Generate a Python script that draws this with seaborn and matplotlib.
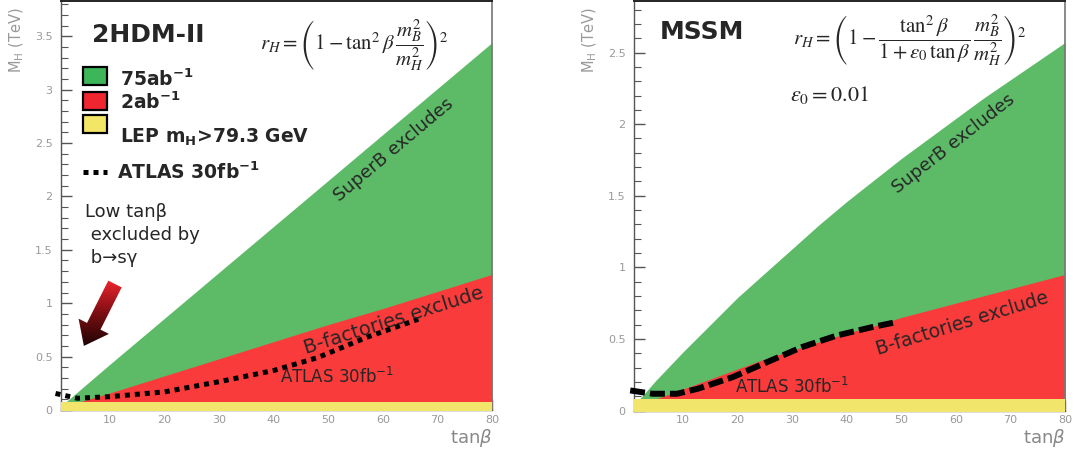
import numpy as np
import matplotlib
matplotlib.use("Agg")
import matplotlib.pyplot as plt
import seaborn as sns
from matplotlib.patches import Rectangle, FancyArrow
from matplotlib.transforms import IdentityTransform
from matplotlib.colors import LinearSegmentedColormap
from matplotlib.ticker import MultipleLocator, FuncFormatter

# values: tan(beta) vs M_H in TeV
tanb = [2, 10, 20, 30, 40, 50, 60, 70, 80]

# 2HDM-II
hdm_superb = [0.08, 0.43, 0.86, 1.29, 1.72, 2.15, 2.58, 3.01, 3.44]
hdm_bfact_t = [4, 10, 20, 30, 40, 50, 60, 70, 80]
hdm_bfact = [0.07, 0.16, 0.32, 0.48, 0.64, 0.80, 0.95, 1.11, 1.27]
hdm_atlas_t = [0, 4, 10, 20, 30, 40, 48, 57, 66.5]
hdm_atlas = [0.155, 0.11, 0.125, 0.17, 0.265, 0.37, 0.49, 0.68, 0.85]

# MSSM
mssm_t = [2, 5, 10, 15, 20, 25, 30, 35, 40, 45, 50, 55, 60, 65, 70, 75, 80]
mssm_superb = [0.08, 0.21, 0.41, 0.60, 0.79, 0.96, 1.13, 1.30, 1.46, 1.61, 1.76,
               1.90, 2.04, 2.18, 2.31, 2.44, 2.57]
mssm_bfact_t = [3.5, 5, 10, 15, 20, 25, 30, 35, 40, 45, 50, 55, 60, 65, 70, 75, 80]
mssm_bfact = [0.07, 0.08, 0.15, 0.22, 0.29, 0.36, 0.42, 0.48, 0.54, 0.59, 0.65,
              0.70, 0.75, 0.80, 0.85, 0.90, 0.95]
mssm_atlas_t = [0.3, 4.4, 8.9, 12.7, 19.1, 25.4, 31.8, 38.2, 44.6, 49]
mssm_atlas = [0.14, 0.117, 0.117, 0.152, 0.233, 0.338, 0.443, 0.524, 0.582, 0.617]

lep_limit = 0.0793
xlim = (1, 80)
ylims = [3.83, 2.86]

# arrow for the b->s gamma note (tail, tip in data coords of left panel)
arrow_tail = (10.9, 1.18)
arrow_tip = (5.2, 0.60)

GREEN, RED, YELLOW = '#5dbb68', '#f93b3b', '#f1e56b'
GRAY = '#999999'

sns.set_style("ticks")
plt.rcParams['font.family'] = ['DejaVu Sans']

fig = plt.figure(figsize=(10.81, 4.55), dpi=100)
ax1 = fig.add_axes([0.0564, 0.0989, 0.3987, 0.8989])
ax2 = fig.add_axes([0.5865, 0.0978, 0.3987, 0.9000])


def style_axes(ax, ytop):
    ax.set_xlim(*xlim)
    ax.set_ylim(0, ytop)
    ax.xaxis.set_major_locator(MultipleLocator(10))
    ax.yaxis.set_major_locator(MultipleLocator(0.5))
    ax.yaxis.set_minor_locator(MultipleLocator(0.1))
    ax.xaxis.set_major_formatter(FuncFormatter(lambda v, p: '' if v < 5 else '%g' % v))
    ax.yaxis.set_major_formatter(FuncFormatter(lambda v, p: '%g' % v))
    ax.tick_params(axis='both', which='major', direction='in', length=8, width=1,
                   color='#555555', labelcolor=GRAY, labelsize=8)
    ax.tick_params(axis='y', which='minor', direction='in', length=5, width=0.8, color='#555555')
    ax.tick_params(axis='y', pad=6)
    for s in ['left', 'bottom']:
        ax.spines[s].set_color('#555555')
        ax.spines[s].set_linewidth(1.0)
    ax.spines['top'].set_color('#222222')
    ax.spines['top'].set_linewidth(1.4)
    ax.spines['right'].set_color('#777777')
    ax.spines['right'].set_linewidth(1.2)
    ax.text(-0.102, 0.905, r'M$_{\mathrm{H}}$ (TeV)', transform=ax.transAxes, rotation=90,
            ha='center', va='center', color=GRAY, fontsize=10.5)
    ax.text(1.0, -0.068, r'tan$\beta$', transform=ax.transAxes, ha='right', va='center',
            color='#888888', fontsize=13)


def draw_regions(ax, t, superb, bt, bf, at, av, ls, lw):
    ax.fill_between(t, 0, superb, color=GREEN, lw=0, zorder=1)
    ax.fill_between(bt, 0, bf, color=RED, lw=0, zorder=2)
    ax.fill_between(list(xlim), -0.05, lep_limit, color=YELLOW, lw=0, zorder=3)
    sns.lineplot(x=at, y=av, ax=ax, color='black', lw=lw, linestyle=ls,
                 dash_capstyle='butt', clip_on=False, zorder=5, sort=False)


# ---------------- left: 2HDM-II ----------------
draw_regions(ax1, tanb, hdm_superb, hdm_bfact_t, hdm_bfact, hdm_atlas_t, hdm_atlas,
             (0, (1, 1)), 3.6)
style_axes(ax1, ylims[0])

ax1.text(0.202, 0.917, '2HDM-II', transform=ax1.transAxes, ha='center', va='center',
         fontsize=18, fontweight='bold')
ax1.text(0.682, 0.892, r'$r_H = \left(1 - \tan^2\beta\,\dfrac{m_B^2}{m_H^2}\right)^2$',
         transform=ax1.transAxes, ha='center', va='center', fontsize=15, math_fontfamily='stix')

leg_cols = ['#3db65a', '#ef2530', '#f3e566']
leg_y = [0.795, 0.733, 0.677]
for c, y in zip(leg_cols, leg_y):
    ax1.add_patch(Rectangle((0.051, y), 0.0557, 0.044, transform=ax1.transAxes,
                            facecolor=c, edgecolor='black', lw=1.6, zorder=6))
ax1.text(0.137, 0.809, r'75ab$^{\mathbf{-1}}$', transform=ax1.transAxes, va='center',
         fontsize=13.5, fontweight='bold')
ax1.text(0.137, 0.753, r'2ab$^{\mathbf{-1}}$', transform=ax1.transAxes, va='center',
         fontsize=13.5, fontweight='bold')
ax1.text(0.137, 0.667, r'LEP m$_{\mathbf{H}}$>79.3 GeV', transform=ax1.transAxes, va='center',
         fontsize=13.5, fontweight='bold')
ax1.plot([0.051, 0.107], [0.582, 0.582], transform=ax1.transAxes, color='black', lw=3.6,
         linestyle=(0, (1, 1)), dash_capstyle='butt')
ax1.text(0.130, 0.582, r'ATLAS 30fb$^{\mathbf{-1}}$', transform=ax1.transAxes, va='center',
         fontsize=13.5, fontweight='bold')

ax1.text(61.9, 2.44, 'SuperB excludes', rotation=40, ha='center', va='center',
         fontsize=13, rotation_mode='anchor', zorder=6)
ax1.text(62, 0.84, 'B-factories exclude', rotation=17.5, ha='center', va='center',
         fontsize=14, rotation_mode='anchor', zorder=6)
ax1.text(51.5, 0.31, r'ATLAS 30fb$^{-1}$', ha='center', va='center', fontsize=12, zorder=6)
ax1.text(5.4, 1.94, 'Low tan\u03b2\n excluded by\n b\u2192s\u03b3', ha='left', va='top',
         fontsize=13, linespacing=1.35, zorder=6)

# gradient arrow
fig.canvas.draw()
p0 = ax1.transData.transform(arrow_tail)
p1 = ax1.transData.transform(arrow_tip)
arr = FancyArrow(p0[0], p0[1], p1[0] - p0[0], p1[1] - p0[1], width=15, head_width=34,
                 head_length=22, length_includes_head=True, transform=IdentityTransform(),
                 facecolor='none', edgecolor='none')
ax1.add_patch(arr)
cmap = LinearSegmentedColormap.from_list('arr', ['#1a0303', '#7a0e12', '#f0242e'])
grad = np.linspace(0, 1, 100).reshape(-1, 1)
im = ax1.imshow(grad, extent=[2, 14, 0.58, 1.22], origin='lower', cmap=cmap,
                aspect='auto', zorder=6)
im.set_clip_path(arr)
ax1.set_xlim(*xlim)
ax1.set_ylim(0, ylims[0])

# ---------------- right: MSSM ----------------
draw_regions(ax2, mssm_t, mssm_superb, mssm_bfact_t, mssm_bfact, mssm_atlas_t, mssm_atlas,
             (0, (2.5, 0.85)), 4.3)
style_axes(ax2, ylims[1])

ax2.text(0.158, 0.924, 'MSSM', transform=ax2.transAxes, ha='center', va='center',
         fontsize=18, fontweight='bold')
ax2.text(0.640, 0.905,
         r'$r_H = \left(1 - \dfrac{\tan^2\beta}{1+\varepsilon_0\,\tan\beta}\,\dfrac{m_B^2}{m_H^2}\right)^2$',
         transform=ax2.transAxes, ha='center', va='center', fontsize=15, math_fontfamily='stix')
ax2.text(0.362, 0.770, r'$\varepsilon_0 = 0.01$', transform=ax2.transAxes, ha='left',
         va='center', fontsize=16, math_fontfamily='stix')

ax2.text(59.5, 1.865, 'SuperB excludes', rotation=38, ha='center', va='center',
         fontsize=13, rotation_mode='anchor', zorder=6)
ax2.text(61.1, 0.61, 'B-factories exclude', rotation=17, ha='center', va='center',
         fontsize=13.5, rotation_mode='anchor', zorder=6)
ax2.text(30, 0.166, r'ATLAS 30fb$^{-1}$', ha='center', va='center', fontsize=12, zorder=6)

fig.savefig('out.png', dpi=100)
